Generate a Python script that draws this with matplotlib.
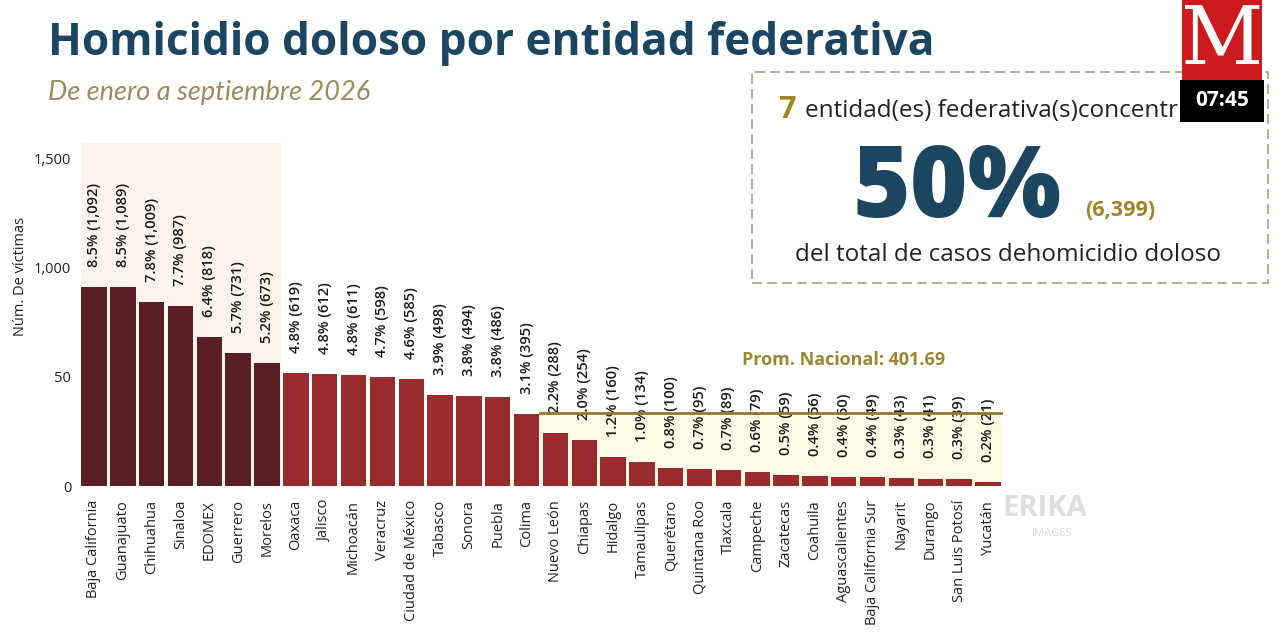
import matplotlib
matplotlib.use("Agg")
import matplotlib.pyplot as plt
from matplotlib.patches import Rectangle
from matplotlib.transforms import Bbox

# ---------------- data ----------------
states = ["Baja California", "Guanajuato", "Chihuahua", "Sinaloa", "EDOMEX", "Guerrero",
          "Morelos", "Oaxaca", "Jalisco", "Michoacán", "Veracruz", "Ciudad de México",
          "Tabasco", "Sonora", "Puebla", "Colima", "Nuevo León", "Chiapas", "Hidalgo",
          "Tamaulipas", "Querétaro", "Quintana Roo", "Tlaxcala", "Campeche", "Zacatecas",
          "Coahuila", "Aguascalientes", "Baja California Sur", "Nayarit", "Durango",
          "San Luis Potosí", "Yucatán"]
victims = [1092, 1089, 1009, 987, 818, 731, 673, 619, 612, 611, 598, 585, 498, 494, 486,
           395, 288, 254, 160, 134, 100, 95, 89, 79, 59, 56, 50, 49, 43, 41, 39, 21]
pcts = [8.5, 8.5, 7.8, 7.7, 6.4, 5.7, 5.2, 4.8, 4.8, 4.8, 4.7, 4.6, 3.9, 3.8, 3.8, 3.1,
        2.2, 2.0, 1.2, 1.0, 0.8, 0.7, 0.7, 0.6, 0.5, 0.4, 0.4, 0.4, 0.3, 0.3, 0.3, 0.2]
n_top = 7
national_avg = 401.69
ytick_labels = ["0", "50", "1,000", "1,500"]
ytick_base = [0, 500, 1000, 1500]
axis_stretch = 1.196  # the source graphic's axis is drawn stretched vs. bars

FONT = "Open Sans"
plt.rcParams["font.family"] = [FONT, "DejaVu Sans"]

TITLE_BLUE = "#1b4560"
GOLD = "#9c8530"
DARK = "#5a1f23"
RED = "#9a2b2d"

W, H = 1280, 640
fig = plt.figure(figsize=(12.8, 6.4), dpi=100)
fig.patch.set_facecolor("white")

ax_left, ax_right = 81 / W, 1003 / W
ax_bottom, ax_top = 1 - 486 / H, 1 - 143 / H
ax = fig.add_axes([ax_left, ax_bottom, ax_right - ax_left, ax_top - ax_bottom])
ax.set_facecolor("none")

x = list(range(len(states)))
colors = [DARK if i < n_top else RED for i in x]
ymax = 1881
xmax = len(states) - 1 + 0.52
ax.set_xlim(-0.45, xmax)
ax.set_ylim(0, ymax)

# highlight regions
ax.axvspan(-0.45, n_top - 0.5, color="#fdf5ec", zorder=0, lw=0)
ax.add_patch(Rectangle((15.45, 0), xmax - 15.45, national_avg,
                       facecolor="#fdfae6", edgecolor="none", zorder=0))

ax.bar(x, victims, width=0.88, color=colors, zorder=2)

for i, (v, p) in enumerate(zip(victims, pcts)):
    ax.text(i, v + 110, f"{p:.1f}% ({v:,})", rotation=90, ha="center", va="bottom",
            fontsize=10.5, fontweight="semibold", color="#1a1a1a", zorder=3)

ax.plot([15.45, xmax], [national_avg, national_avg], color="#8c7b35", lw=2, zorder=4)
ax.text(26.0, 690, f"Prom. Nacional: {national_avg:.2f}", ha="center", va="center",
        fontsize=13, fontweight="bold", color=GOLD, zorder=4)

ax.set_yticks([t * axis_stretch for t in ytick_base])
ax.set_yticklabels(ytick_labels, fontsize=10.5, color="#222222")
ax.set_xticks(x)
ax.set_xticklabels(states, rotation=90, fontsize=10.5, color="#222222")
ax.tick_params(axis="x", length=0, pad=10)
ax.tick_params(axis="y", length=0, pad=7)
for s in ax.spines.values():
    s.set_visible(False)
ax.set_ylabel("Núm. De víctimas", fontsize=10.5, color="#222222")
ax.yaxis.set_label_coords(-0.057, 0.61)

# titles
fig.text(48 / W, 1 - 55 / H, "Homicidio doloso por entidad federativa",
         fontsize=31.8, fontweight="bold", color=TITLE_BLUE, ha="left", va="baseline")
fig.text(48 / W, 1 - 100 / H, "De enero a septiembre 2026", fontsize=19.5,
         style="italic", color="#9c8c5c", ha="left", va="baseline",
         family=["Lato", "DejaVu Sans"])

# summary box
fig.patches.append(Rectangle((752 / W, 1 - 283 / H), (1268 - 752) / W, (283 - 72) / H,
                             transform=fig.transFigure, facecolor="white",
                             edgecolor="#a8a188", lw=1.2, ls=(0, (6, 3)), zorder=1))
fig.text(778 / W, 1 - 118 / H, "7", fontsize=22, fontweight="bold", color="#a08428",
         ha="left", va="baseline", zorder=2)
t_conc = fig.text(805 / W, 1 - 117 / H, "entidad(es) federativa(s)concentr", fontsize=17.5,
                  color="#222222", ha="left", va="baseline", zorder=2)
t_conc.set_clip_box(Bbox.from_extents(0, 0, 1178, H))
fig.text(957 / W, 1 - 217 / H, "50%", fontsize=71, fontweight="heavy", color=TITLE_BLUE,
         ha="center", va="baseline", zorder=2)
fig.text(1120 / W, 1 - 216 / H, "(6,399)", fontsize=15.5, fontweight="bold",
         color="#a08428", ha="center", va="baseline", zorder=2)
fig.text(1008 / W, 1 - 261 / H, "del total de casos dehomicidio doloso", fontsize=17.5,
         color="#222222", ha="center", va="baseline", zorder=2)

# broadcaster logo overlay
fig.patches.append(Rectangle((1182 / W, 1 - 80 / H), 80 / W, 80 / H,
                             transform=fig.transFigure, facecolor="#cc1a1e",
                             edgecolor="none", zorder=5))
fig.text(1222 / W, 1 - 42 / H, "M", fontsize=58, color="white", family="DejaVu Serif",
         ha="center", va="center", zorder=6)
fig.patches.append(Rectangle((1180 / W, 1 - 122 / H), 84 / W, 42 / H,
                             transform=fig.transFigure, facecolor="black",
                             edgecolor="none", zorder=5))
fig.text(1222 / W, 1 - 101 / H, "07:45", fontsize=15, fontweight="bold", color="white",
         ha="center", va="center", zorder=6)

# watermark
fig.text(1045 / W, 1 - 508 / H, "ERIKA", fontsize=21, fontweight="bold", color="#d6d6d6",
         ha="center", va="center", alpha=0.8, zorder=7)
fig.text(1052 / W, 1 - 534 / H, "IMAGES", fontsize=8, color="#dcdcdc",
         ha="center", va="center", zorder=7)

fig.savefig("out.png", dpi=100, facecolor="white")
